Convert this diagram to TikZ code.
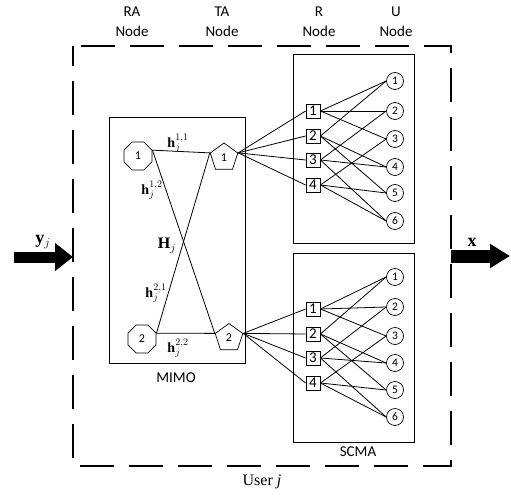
\documentclass[tikz,border=0pt]{standalone}
\usepackage[no-math]{fontspec}
\setmainfont{Carlito}
\newfontfamily\tnr{Liberation Serif}
\usetikzlibrary{shapes.geometric,arrows.meta}
\newcommand{\bsv}[1]{{\tnr\bfseries #1}}
\begin{document}
\begin{tikzpicture}[x=1pt,y=-1pt,
  lbl/.style={font=\fontsize{15}{20}\selectfont, align=center, inner sep=0pt},
  oct/.style={draw, regular polygon, regular polygon sides=8, minimum size=30.5pt, inner sep=0pt, font=\fontsize{12}{12}\selectfont, line width=0.7pt},
  pent/.style={draw, regular polygon, regular polygon sides=5, minimum size=29pt, inner sep=0pt, font=\fontsize{12}{12}\selectfont, line width=0.7pt},
  rsq/.style={draw, minimum size=14pt, inner sep=0pt, font=\fontsize{15}{15}\selectfont, line width=0.8pt},
  ucirc/.style={draw, circle, minimum size=17pt, inner sep=0pt, font=\fontsize{11.5}{11.5}\selectfont, line width=0.7pt},
  edge/.style={line width=0.8pt},
  box/.style={draw, line width=0.8pt},
  hl/.style={font=\fontsize{14}{14}\selectfont, inner sep=0pt},
]
\useasboundingbox (0,0) rectangle (511,495);
% outer dashed box
\draw[line width=2.5pt, dash pattern=on 34pt off 15pt, dash phase=41pt]
  (73,46) -- (451,46) -- (451,466) -- (73,466) -- cycle;
% column labels
\node[lbl] (lra) at (132,22) {RA\\Node};
\node[lbl] (lta) at (222,22) {TA\\Node};
\node[lbl] (lr)  at (319,22) {R\\Node};
\node[lbl] (lu)  at (396,22) {U\\Node};
% boxes
\draw[box] (109,117) rectangle (245,363);
\draw[box] (293,54) rectangle (414,243);
\draw[box] (293,253) rectangle (414,442);
\node[lbl] (mimo) at (176,378) {MIMO};
\node[lbl] (scma) at (358,452) {SCMA};
% MIMO nodes
\node[oct] (a1) at (138,156) {1};
\node[oct] (a2) at (142,339) {2};
\node[pent] (t1) at (224,157.5) {1};
\node[pent] (t2) at (229,338) {2};
\draw[edge] (a1.22.5) -- (t1.162);
\draw[edge] (a1.22.5) -- (t2.162);
\draw[edge] (a2.22.5) -- (t1.162);
\draw[edge] (a2.22.5) -- (t2.162);
\node[hl] (h11) at (178,143) {\bsv{h}$_j^{1,1}$};
\node[hl] (h12) at (152,190) {\bsv{h}$_j^{1,2}$};
\node[hl, font=\fontsize{16}{16}\selectfont] (H) at (167,246) {\bsv{H}$_j$};
\node[hl] (h21) at (156,293) {\bsv{h}$_j^{2,1}$};
\node[hl] (h22) at (178,348) {\bsv{h}$_j^{2,2}$};
% top SCMA
\foreach \i/\y in {1/111,2/136,3/160,4/185} \node[rsq] (p\i) at (313,\y) {\i};
\foreach \i/\y in {1/81,2/111,3/139,4/167,5/193,6/221} \node[ucirc] (q\i) at (395,\y) {\i};
% bottom SCMA
\foreach \i/\y in {1/309,2/334,3/358,4/383} \node[rsq] (s\i) at (313,\y) {\i};
\foreach \i/\y in {1/277,2/307,3/336,4/363,5/390,6/417} \node[ucirc] (v\i) at (395,\y) {\i};
% pentagon to R
\foreach \i in {1,...,4} {
  \draw[edge] (t1.18) -- (p\i.west);
  \draw[edge] (t2.18) -- (s\i.west);
}
% factor graph
\foreach \r/\u in {1/1,1/2,1/3,2/1,2/4,2/5,3/2,3/4,3/6,4/3,4/5,4/6} {
  \draw[edge] (p\r.east) -- (q\u.west);
  \draw[edge] (s\r.east) -- (v\u.west);
}
% arrows
\coordinate (inS) at (14,257);
\coordinate (inE) at (73,257);
\coordinate (outS) at (451,256);
\coordinate (outE) at (510,256);
\draw[line width=11pt, -{Triangle[length=18pt,width=27pt]}] (inS) -- (inE);
\draw[line width=13pt, -{Triangle[length=20pt,width=23pt]}] (outS) -- (outE);
\node[font=\fontsize{18}{18}\selectfont, inner sep=0pt] (yj) at (43,242) {\bsv{y}$_j$};
\node[font=\fontsize{18}{18}\selectfont, inner sep=0pt] (xl) at (472,242) {\bsv{x}};
\node[font=\fontsize{16}{18}\selectfont\tnr, inner sep=0pt] (user) at (262,482) {User \textit{j}};
\end{tikzpicture}
\end{document}
